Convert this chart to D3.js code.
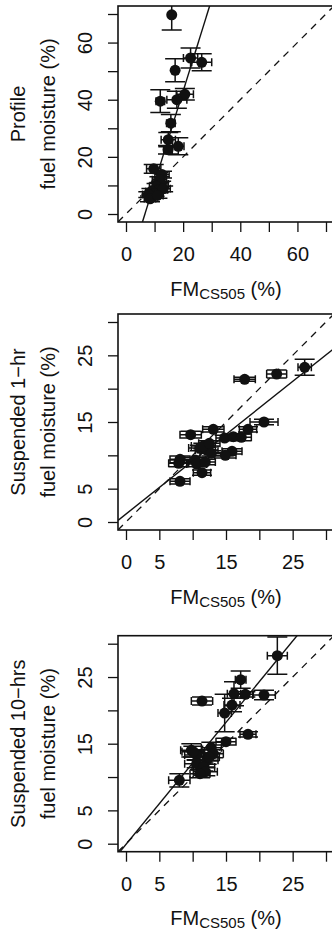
<!DOCTYPE html>
<html>
<head>
<meta charset="utf-8">
<script src="https://cdn.jsdelivr.net/npm/d3@7"></script>
<style>
  body { margin: 0; background: #fff; }
  svg { display: block; }
  text { font-family: "Liberation Sans", Arial, Helvetica, sans-serif; fill: #111; }
</style>
</head>
<body>
<div id="chart"></div>
<script>
const profilePts = [
  [16.0, 69.7, 0.5, 5.3], [22.6, 54.6, 2.5, 3.5], [26.5, 53.1, 3.5, 3.0],
  [17.2, 50.3, 1.0, 4.0], [20.6, 41.9, 3.0, 2.0], [12.0, 39.5, 1.5, 4.0],
  [17.8, 40.0, 3.5, 3.0], [15.7, 31.8, 1.5, 3.0], [14.8, 26.0, 2.5, 2.5],
  [18.3, 23.7, 2.0, 3.0], [14.7, 22.5, 1.5, 1.5], [9.7, 15.8, 2.5, 1.5],
  [12.6, 13.8, 2.5, 1.2], [11.7, 12.0, 2.5, 1.0], [12.3, 10.5, 2.5, 1.0],
  [10.7, 9.7, 2.5, 1.0], [11.5, 8.5, 3.0, 1.0], [8.9, 7.9, 2.0, 1.0],
  [10.0, 7.2, 3.0, 1.0], [7.8, 6.8, 2.0, 1.0], [8.4, 5.3, 2.0, 1.0],
  [13.0, 8.8, 2.5, 1.0], [11.0, 6.5, 2.0, 1.0]
];
const oneHrPts = [
  [26.8, 23.2, 1.0, 1.2], [22.6, 22.2, 1.5, 0.6], [17.8, 21.4, 1.6, 0.3],
  [20.7, 15.0, 2.1, 0.4], [18.3, 13.9, 1.3, 0.4], [13.1, 13.9, 1.6, 0.4],
  [9.7, 13.1, 1.6, 0.5], [14.8, 12.6, 1.3, 0.4], [16.1, 12.8, 1.5, 0.4],
  [17.3, 12.7, 1.5, 0.5], [11.1, 11.1, 1.7, 0.4], [12.1, 10.8, 1.7, 0.4],
  [12.8, 10.3, 1.7, 0.4], [15.9, 10.6, 1.5, 0.4], [14.9, 10.0, 1.6, 0.4],
  [8.1, 9.4, 1.5, 0.5], [7.9, 8.8, 1.5, 0.5], [10.4, 9.3, 1.6, 0.4],
  [10.6, 8.7, 1.5, 0.4], [11.9, 9.0, 1.5, 0.4], [11.4, 7.4, 1.3, 0.4],
  [8.1, 6.1, 1.5, 0.4], [11.6, 11.4, 1.8, 0.4], [12.5, 11.8, 1.6, 0.4]
];
const tenHrPts = [
  [22.7, 28.2, 1.5, 2.8], [17.2, 24.6, 0.8, 1.3], [16.2, 22.5, 1.0, 1.8],
  [17.9, 22.4, 1.2, 0.4], [20.7, 22.3, 1.7, 0.7], [11.4, 21.4, 1.6, 0.6],
  [15.9, 20.8, 1.2, 1.0], [14.8, 19.6, 1.0, 2.8], [18.3, 16.4, 1.2, 0.4],
  [15.0, 15.3, 1.5, 0.5], [9.8, 14.0, 1.6, 1.0], [12.8, 14.4, 1.5, 0.8],
  [10.6, 13.3, 1.8, 0.8], [13.1, 13.5, 1.5, 0.6], [12.1, 12.5, 1.7, 0.6],
  [10.6, 12.0, 1.8, 0.6], [11.6, 11.5, 1.7, 0.6], [11.9, 10.8, 1.8, 0.6],
  [11.1, 10.5, 1.5, 0.6], [8.0, 9.5, 1.6, 1.0], [12.5, 13.0, 1.5, 0.6],
  [10.1, 13.8, 1.7, 0.8]
];
// fitted lines: [intercept, slope]
const fitLines = [[-21.3, 3.215], [1.2, 0.796], [-0.1, 1.22]];
const yTitles = [
  ['Profile', 'fuel moisture (%)'],
  ['Suspended 1\u2212hr', 'fuel moisture (%)'],
  ['Suspended 10\u2212hrs', 'fuel moisture (%)']
];
const axisMax = [70, 30, 30];
const tickStep = [10, 5, 5];
const tickLabels = [[0, 20, 40, 60], [0, 5, 15, 25], [0, 5, 15, 25]];

const series = [profilePts, oneHrPts, tenHrPts];
const W = 332, H = 935;
const left = 118, size = 216;
const panelTops = [6, 314, 635.7];
const ink = '#111';

const svg = d3.select('#chart').append('svg')
  .attr('width', W).attr('height', H);

series.forEach((pts, i) => {
  const top = panelTops[i];
  const max = axisMax[i];
  const pad = max * 0.04;
  const x = d3.scaleLinear().domain([-pad, max + pad]).range([left, left + size]);
  const y = d3.scaleLinear().domain([-pad, max + pad]).range([top + size, top]);

  const g = svg.append('g');
  g.append('clipPath').attr('id', 'clip' + i)
    .append('rect').attr('x', left).attr('y', top).attr('width', size).attr('height', size);
  const plot = g.append('g').attr('clip-path', `url(#clip${i})`);

  // 1:1 line
  plot.append('line')
    .attr('x1', x(-pad)).attr('y1', y(-pad))
    .attr('x2', x(max + pad)).attr('y2', y(max + pad))
    .attr('stroke', ink).attr('stroke-width', 1.3).attr('stroke-dasharray', '7,6');

  // regression line
  const [a, b] = fitLines[i];
  plot.append('line')
    .attr('x1', x(-pad)).attr('y1', y(a + b * -pad))
    .attr('x2', x(max + pad)).attr('y2', y(a + b * (max + pad)))
    .attr('stroke', ink).attr('stroke-width', 1.4);

  // error bars
  const bars = plot.append('g').attr('stroke', ink).attr('stroke-width', 1.5).attr('fill', 'none');
  pts.forEach(([px, py, ex, ey]) => {
    const cx = x(px), cy = y(py);
    const y0 = y(py - ey), y1 = y(py + ey);
    const x0 = x(px - ex), x1 = x(px + ex);
    bars.append('path')
      .attr('d', `M${cx},${y0}V${y1}M${cx - 10},${y0}H${cx + 10}M${cx - 10},${y1}H${cx + 10}` +
                 `M${x0},${cy}H${x1}M${x0},${cy - 4}V${cy + 4}M${x1},${cy - 4}V${cy + 4}`);
  });

  // points
  plot.selectAll('circle').data(pts).join('circle')
    .attr('cx', d => x(d[0])).attr('cy', d => y(d[1]))
    .attr('r', 5.5).attr('fill', ink);

  // box
  g.append('rect').attr('x', left).attr('y', top).attr('width', size).attr('height', size)
    .attr('fill', 'none').attr('stroke', ink).attr('stroke-width', 1.6);

  const ticks = d3.range(0, max + 0.001, tickStep[i]);
  const fmt = d => tickLabels[i].includes(d) ? d : '';

  const xa = g.append('g').attr('transform', `translate(0,${top + size})`)
    .call(d3.axisBottom(x).tickValues(ticks).tickSize(10).tickPadding(0).tickFormat(fmt));
  xa.select('.domain').remove();
  xa.selectAll('line').attr('stroke', ink).attr('stroke-width', 1.3);
  xa.selectAll('text').attr('y', 39).attr('dy', null)
    .style('font-size', '20px').style('font-family', null).attr('fill', ink);

  const ya = g.append('g').attr('transform', `translate(${left},0)`)
    .call(d3.axisLeft(y).tickValues(ticks).tickSize(10).tickPadding(0).tickFormat(fmt));
  ya.select('.domain').remove();
  ya.selectAll('line').attr('stroke', ink).attr('stroke-width', 1.3);
  ya.selectAll('text').attr('x', null).attr('dy', null)
    .attr('text-anchor', 'middle')
    .attr('transform', `translate(${92 - left},0) rotate(-90)`)
    .style('font-size', '20px').style('font-family', null).attr('fill', ink);

  // x title
  const xt = g.append('text')
    .attr('x', left + size / 2).attr('y', top + size + 73.7)
    .attr('text-anchor', 'middle').style('font-size', '20px');
  xt.append('tspan').text('FM');
  xt.append('tspan').attr('dy', 3).style('font-size', '15px').text('CS505');
  xt.append('tspan').attr('dy', -3).text(' (%)');

  // y title, two lines
  const midY = top + size / 2;
  yTitles[i].forEach((line, k) => {
    g.append('text')
      .attr('transform', `translate(${k === 0 ? 25 : 55},${midY}) rotate(-90)`)
      .attr('text-anchor', 'middle').style('font-size', '20px')
      .text(line);
  });
});
</script>
</body>
</html>
